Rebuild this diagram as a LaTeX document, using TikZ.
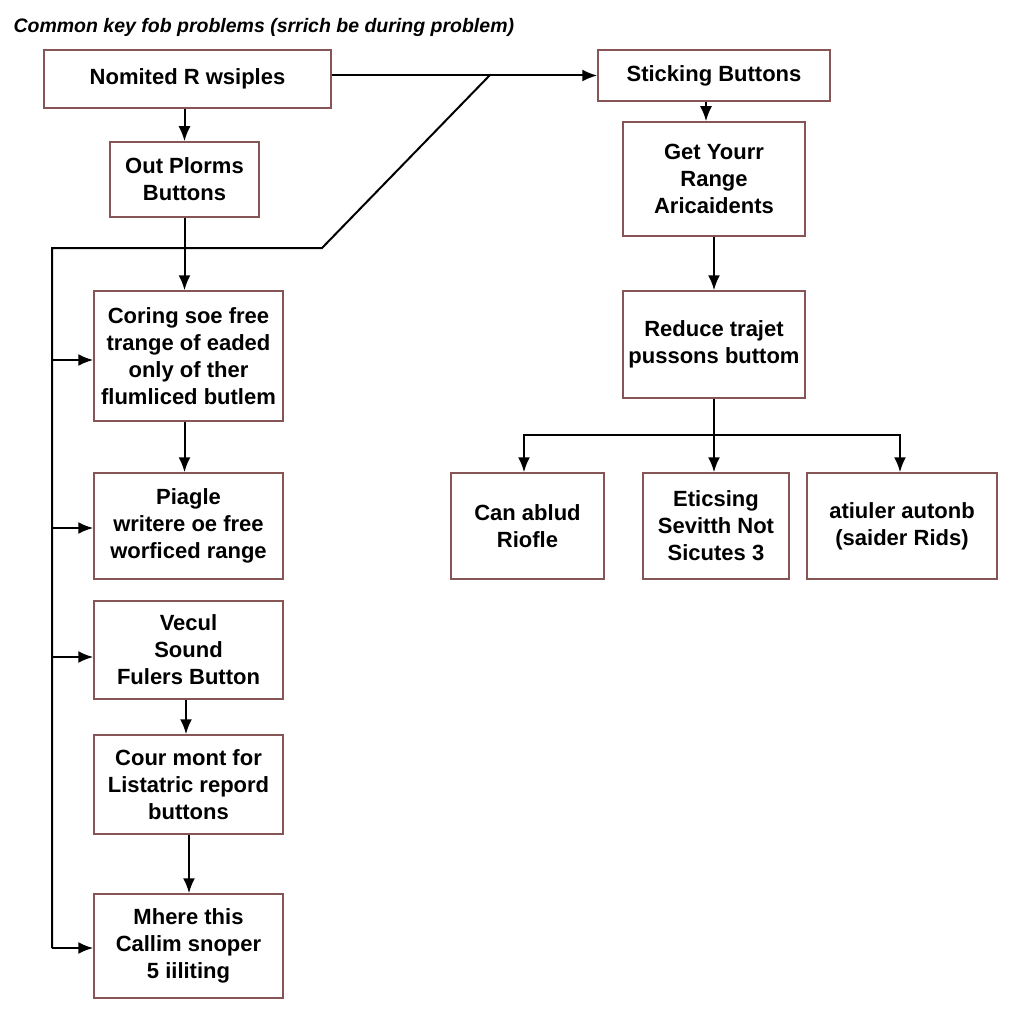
\documentclass[tikz,border=0pt]{standalone}
\usepackage{fontspec}
\setmainfont{Liberation Sans}
\usetikzlibrary{arrows.meta}

\definecolor{boxred}{RGB}{135,85,85}

\tikzset{
  box/.style={draw=boxred, line width=1.5pt, align=center, inner sep=2pt,
    font=\bfseries\fontsize{22}{27}\selectfont},
  link/.style={line width=2pt, -{Latex[length=15pt,width=12pt]}},
  wire/.style={line width=2pt}
}

\begin{document}
\begin{tikzpicture}[x=1pt,y=-1pt]
\useasboundingbox[fill=white] (0,0) rectangle (1024,1024);

% Title
\node[anchor=west, font=\bfseries\itshape\fontsize{19.5}{22}\selectfont] (title) at (10,27)
  {Common key fob problems (srrich be during problem)};

% Left column
\node[box, minimum width=287pt, minimum height=58pt] (nomited) at (187.5,79) {Nomited R wsiples};
\node[box, minimum width=149pt, minimum height=75pt] (outplorms) at (184.5,179.5) {Out Plorms\\Buttons};
\node[box, minimum width=189pt, minimum height=130pt] (coring) at (188.5,356)
  {Coring soe free\\trange of eaded\\only of ther\\flumliced butlem};
\node[box, minimum width=189pt, minimum height=106pt] (piagle) at (188.5,526)
  {Piagle\\writere oe free\\worficed range};
\node[box, minimum width=189pt, minimum height=98pt] (vecul) at (188.5,650)
  {Vecul\\Sound\\Fulers Button};
\node[box, minimum width=189pt, minimum height=99pt] (cour) at (188.5,784.5)
  {Cour mont for\\Listatric repord\\buttons};
\node[box, minimum width=189pt, minimum height=104pt] (mhere) at (188.5,946)
  {Mhere this\\Callim snoper\\5 iiliting};

% Right column
\node[box, minimum width=232pt, minimum height=51pt] (sticking) at (714,75.5) {Sticking Buttons};
\node[box, minimum width=182pt, minimum height=114pt] (getyour) at (714,179)
  {Get Yourr\\Range\\Aricaidents};
\node[box, minimum width=182pt, minimum height=107pt] (reduce) at (714,344.5)
  {Reduce trajet\\pussons buttom};
\node[box, minimum width=153pt, minimum height=106pt] (canablud) at (527.5,526) {Can ablud\\Riofle};
\node[box, minimum width=146pt, minimum height=106pt] (eticsing) at (716,526)
  {Eticsing\\Sevitth Not\\Sicutes 3};
\node[box, minimum width=190pt, minimum height=106pt] (atiuler) at (902,526)
  {atiuler autonb\\(saider Rids)};

% Feedback line on the left
\coordinate (split) at (490,75);
\coordinate (bend) at (322,248);
\coordinate (corner) at (52,248);
\coordinate (spineend) at (52,948);
\draw[wire] (split) -- (bend) -- (corner) -- (spineend);
\draw[link] (corner |- 0,360) -- (coring.west |- 0,360);
\draw[link] (corner |- 0,528) -- (piagle.west |- 0,528);
\draw[link] (corner |- 0,657) -- (vecul.west |- 0,657);
\draw[link] (spineend) -- (mhere.west |- spineend);

% Main flow
\draw[link] (sticking.west -| nomited.east) -- (sticking.west);
\draw[link] (nomited.south -| outplorms.north) -- (outplorms.north);
\draw[link] (outplorms.south) -- (coring.north -| outplorms.south);
\draw[link] (coring.south -| outplorms.south) -- (piagle.north -| outplorms.south);
\draw[link] (vecul.south -| 186,0) -- (cour.north -| 186,0);
\draw[link] (cour.south -| 189,0) -- (mhere.north -| 189,0);

\draw[link] (sticking.south -| 706,0) -- (getyour.north -| 706,0);
\draw[link] (getyour.south) -- (reduce.north);
\draw[link] (reduce.south) -- (eticsing.north -| reduce.south);
\coordinate (fork) at (714,435);
\draw[link] (fork) -| (canablud.north -| 524,0);
\draw[link] (fork) -| (atiuler.north -| 900,0);
\end{tikzpicture}
\end{document}
